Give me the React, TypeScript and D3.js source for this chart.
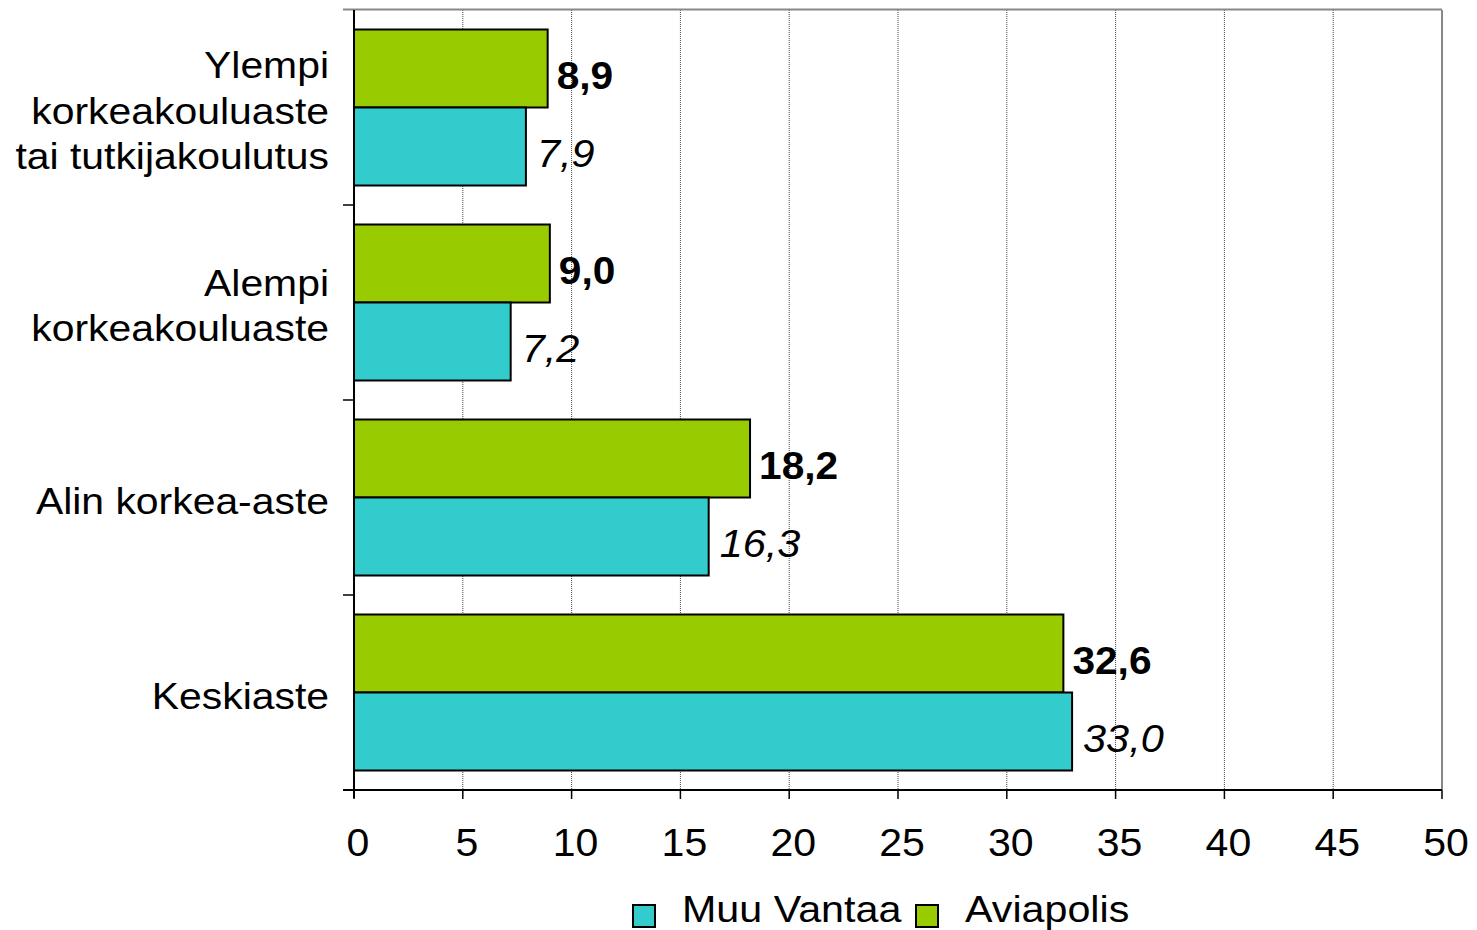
import { useEffect, useRef } from 'react';
import * as d3 from 'd3';

const categories = [
  ['Ylempi', 'korkeakouluaste', 'tai tutkijakoulutus'],
  ['Alempi', 'korkeakouluaste'],
  ['Alin korkea-aste'],
  ['Keskiaste'],
];
const aviapolis = [8.9, 9.0, 18.2, 32.6];
const muuVantaa = [7.9, 7.2, 16.3, 33.0];
const xTicks = [0, 5, 10, 15, 20, 25, 30, 35, 40, 45, 50];
const seriesNames = ['Aviapolis', 'Muu Vantaa'];

const GREEN = '#99CC00';
const CYAN = '#33CCCC';
const FONT = 'Arial, "Liberation Sans", sans-serif';

type Sel = d3.Selection<SVGSVGElement, unknown, null, undefined>;

// old GDI text runs wider than the browser's, so stretch it horizontally
function stretchedText(
  parent: Sel | d3.Selection<SVGGElement, unknown, null, undefined>,
  x: number,
  y: number,
  text: string,
  opts: { size: number; sx: number; anchor?: string; bold?: boolean; italic?: boolean }
) {
  const g = (parent as any).append('g').attr('transform', `translate(${x},${y}) scale(${opts.sx},1)`);
  g.append('text')
    .attr('x', 0)
    .attr('y', 0)
    .attr('text-anchor', opts.anchor || 'start')
    .style('font-family', FONT)
    .style('font-size', `${opts.size}px`)
    .style('font-weight', opts.bold ? 'bold' : 'normal')
    .style('font-style', opts.italic ? 'italic' : 'normal')
    .attr('fill', '#000')
    .text(text);
}

export default function App() {
  const svgRef = useRef<SVGSVGElement>(null);
  const width = 1477;
  const height = 930;

  useEffect(() => {
    if (!svgRef.current) return;
    const svg = d3.select(svgRef.current);
    svg.selectAll('*').remove();

    const left = 354, right = 1442, top = 10, bottom = 790;

    const x = d3.scaleLinear().domain([0, 50]).range([left, right]);
    const keys = categories.map((c) => c.join(' '));
    const y = d3.scaleBand().domain(keys).range([top, bottom]).paddingInner(0.2).paddingOuter(0.1);
    const ySub = d3.scaleBand().domain(seriesNames).range([0, y.bandwidth()]);

    // gridlines
    svg.append('g')
      .selectAll('line')
      .data(xTicks.slice(1, -1))
      .join('line')
      .attr('x1', (d) => x(d)).attr('x2', (d) => x(d))
      .attr('y1', top).attr('y2', bottom)
      .attr('stroke', '#444').attr('stroke-width', 1)
      .attr('stroke-dasharray', '1,1');

    // top and right border
    svg.append('line').attr('x1', left - 11).attr('x2', right).attr('y1', top - 0.5).attr('y2', top - 0.5)
      .attr('stroke', '#888').attr('stroke-width', 2);
    svg.append('line').attr('x1', right).attr('x2', right).attr('y1', top).attr('y2', bottom)
      .attr('stroke', '#888').attr('stroke-width', 2);

    // bars
    const rows = keys.map((k, i) => ({ key: k, lines: categories[i], av: aviapolis[i], mv: muuVantaa[i] }));
    const g = svg.append('g');
    rows.forEach((r) => {
      const y0 = y(r.key) || 0;
      const items = [
        { s: 'Aviapolis', v: r.av, color: GREEN, bold: true },
        { s: 'Muu Vantaa', v: r.mv, color: CYAN, bold: false },
      ];
      items.forEach((it) => {
        const by = y0 + (ySub(it.s) || 0);
        g.append('rect')
          .attr('x', x(0)).attr('y', by)
          .attr('width', x(it.v) - x(0)).attr('height', ySub.bandwidth())
          .attr('fill', it.color).attr('stroke', '#000').attr('stroke-width', 2);
        stretchedText(
          g,
          x(it.v) + (it.bold ? 9 : 11),
          by + ySub.bandwidth() / 2 + 20,
          it.v.toFixed(1).replace('.', ','),
          { size: 38, sx: it.bold ? 1.07 : 1.09, bold: it.bold, italic: !it.bold }
        );
      });

      // category label
      const cy = y0 + y.bandwidth() / 2;
      const n = r.lines.length;
      r.lines.forEach((line, j) => {
        stretchedText(svg, 329, cy - ((n - 1) * 45.5) / 2 + j * 45.5 + 16, line, {
          size: 37,
          sx: 1.105,
          anchor: 'end',
        });
      });
    });

    // left axis
    svg.append('line').attr('x1', left).attr('x2', left).attr('y1', top).attr('y2', bottom + 8)
      .attr('stroke', '#000').attr('stroke-width', 2);
    const bounds = keys.map((k) => (y(k) || 0) - (y.step() * y.paddingInner()) / 2).concat([bottom]);
    svg.append('g').selectAll('line').data(bounds.slice(1)).join('line')
      .attr('x1', left - 11).attr('x2', left).attr('y1', (d) => d).attr('y2', (d) => d)
      .attr('stroke', '#000').attr('stroke-width', 1.5);

    // bottom axis
    svg.append('line').attr('x1', left - 11).attr('x2', right).attr('y1', bottom).attr('y2', bottom)
      .attr('stroke', '#000').attr('stroke-width', 2);
    svg.append('g').selectAll('line').data(xTicks).join('line')
      .attr('x1', (d) => x(d)).attr('x2', (d) => x(d)).attr('y1', bottom).attr('y2', bottom + 9)
      .attr('stroke', '#000').attr('stroke-width', 1.5);
    xTicks.forEach((t) => {
      stretchedText(svg, x(t) + 4, 856, String(t), { size: 38, sx: 1.08, anchor: 'middle' });
    });

    // legend
    const legend = [
      { name: 'Muu Vantaa', color: CYAN, sx: 633, tx: 682 },
      { name: 'Aviapolis', color: GREEN, sx: 916, tx: 965 },
    ];
    legend.forEach((l) => {
      svg.append('rect').attr('x', l.sx).attr('y', 905).attr('width', 22).attr('height', 22)
        .attr('fill', l.color).attr('stroke', '#000').attr('stroke-width', 2);
      stretchedText(svg, l.tx, 922, l.name, { size: 37, sx: 1.115 });
    });
  }, []);

  return (
    <svg
      ref={svgRef}
      width={width}
      height={height}
      style={{ position: 'absolute', left: 0, top: 0, background: '#fff' }}
    />
  );
}
